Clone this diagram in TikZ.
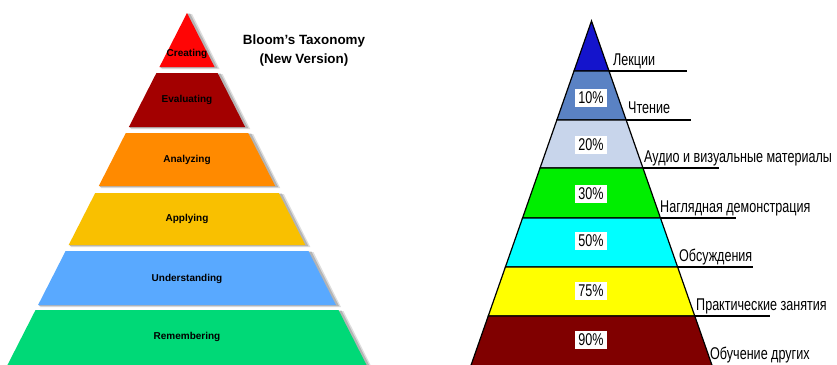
\documentclass[tikz,border=0pt]{standalone}
\usepackage{fontspec}
\setmainfont{Liberation Sans}
\newfontfamily\narrowfont[FakeStretch=0.74]{Liberation Sans}
\definecolor{cCreate}{HTML}{FF0505}
\definecolor{cEval}{HTML}{A30000}
\definecolor{cAnal}{HTML}{FF8A00}
\definecolor{cApply}{HTML}{F9C000}
\definecolor{cUnder}{HTML}{59A9FF}
\definecolor{cRemem}{HTML}{00D977}
\definecolor{cShadow}{HTML}{B4B4B4}
\definecolor{cShadowL}{HTML}{DDDDDD}
\definecolor{pA}{HTML}{1414CC}
\definecolor{pB}{HTML}{5A82C4}
\definecolor{pC}{HTML}{C8D5EB}
\definecolor{pD}{HTML}{00EE00}
\definecolor{pE}{HTML}{00FFFF}
\definecolor{pF}{HTML}{FFFF00}
\definecolor{pG}{HTML}{800000}
\newcommand\bloomlayer[3]{%
  \fill[cShadowL] ({187-0.51*(#1-13)+2},#1+1) -- ({187+5+0.51*(#1-13)},#1+1) -- ({187+5+0.51*(#2-13)},#2+2) -- ({187-0.51*(#2-13)+2},#2+2) -- cycle;
  \fill[cShadow] ({187-0.51*(#1-13)+1},#1+0.5) -- ({187+3+0.51*(#1-13)},#1+0.5) -- ({187+3+0.51*(#2-13)},#2+1) -- ({187-0.51*(#2-13)+1},#2+1) -- cycle;
  \fill[#3] ({187-0.51*(#1-13)},#1) -- ({187+0.51*(#1-13)},#1) -- ({187+0.51*(#2-13)},#2) -- ({187-0.51*(#2-13)},#2) -- cycle;}
\newcommand\learnlayer[3]{%
  \filldraw[fill=#3,draw=black,line width=1.2pt,line join=miter] ({591.5-0.35*(#1-21)},#1) -- ({591.5+0.35*(#1-21)},#1) -- ({591.5+0.35*(#2-21)},#2) -- ({591.5-0.35*(#2-21)},#2) -- cycle;}
\begin{document}
\begin{tikzpicture}[x=1pt,y=-1pt,
  blbl/.style={font=\fontsize{10}{12}\selectfont\bfseries,text=black,inner sep=0pt,text height=7.2pt,text depth=2pt},
  ttl/.style={font=\fontsize{13.4}{16}\selectfont\bfseries,inner sep=0pt},
  rlbl/.style={font=\narrowfont\fontsize{17}{20}\selectfont,anchor=base west,inner sep=0pt},
  pct/.style={fill=white,minimum width=32pt,minimum height=18pt,inner sep=0pt,font=\narrowfont\fontsize{17}{20}\selectfont},
  uline/.style={line width=1.2pt,draw=black}]
\useasboundingbox (0,0) rectangle (837,364);
\clip (0,0) rectangle (837,364);
\fill[white] (0,0) rectangle (837,364);
% ---- Bloom's taxonomy pyramid
\bloomlayer{13}{67}{cCreate}
\bloomlayer{73}{127}{cEval}
\bloomlayer{133}{186}{cAnal}
\bloomlayer{193}{245}{cApply}
\bloomlayer{251}{305}{cUnder}
\bloomlayer{310}{372}{cRemem}
\node[blbl] (creating) at (187,54) {Creating};
\node[blbl] (evaluating) at (187,100) {Evaluating};
\node[blbl] (analyzing) at (187,160) {Analyzing};
\node[blbl] (applying) at (187,219) {Applying};
\node[blbl] (understanding) at (187,279) {Understanding};
\node[blbl] (remembering) at (187,337) {Remembering};
\node[ttl] (title1) at (304,41) {Bloom’s Taxonomy};
\node[ttl] (title2) at (304,60) {(New Version)};
% ---- learning pyramid
\learnlayer{21}{71}{pA}
\learnlayer{71}{120}{pB}
\learnlayer{120}{168}{pC}
\learnlayer{168}{218}{pD}
\learnlayer{218}{267}{pE}
\learnlayer{267}{316}{pF}
\learnlayer{316}{372}{pG}
\foreach \yy/\xe [count=\i] in {71/687,120/691,168/719,218/736,267/753,316/770}{
  \coordinate (e\i) at ({591.5+0.35*(\yy-21)},\yy);
  \coordinate (f\i) at (\xe,\yy);
  \draw[uline] (e\i) -- (f\i);
}
\node[pct] (p1) at (591,98) {10\%};
\node[pct] (p2) at (591,145) {20\%};
\node[pct] (p3) at (591,194) {30\%};
\node[pct] (p4) at (591,241) {50\%};
\node[pct] (p5) at (591,291) {75\%};
\node[pct] (p6) at (591,340) {90\%};
\node[rlbl] (l1) at (613,65) {Лекции};
\node[rlbl] (l2) at (628,113) {Чтение};
\node[rlbl] (l3) at (644,162) {Аудио и визуальные материалы};
\node[rlbl] (l4) at (660,212) {Наглядная демонстрация};
\node[rlbl] (l5) at (679,261) {Обсуждения};
\node[rlbl] (l6) at (696,310) {Практические занятия};
\node[rlbl] (l7) at (710,359) {Обучение других};
\end{tikzpicture}
\end{document}
